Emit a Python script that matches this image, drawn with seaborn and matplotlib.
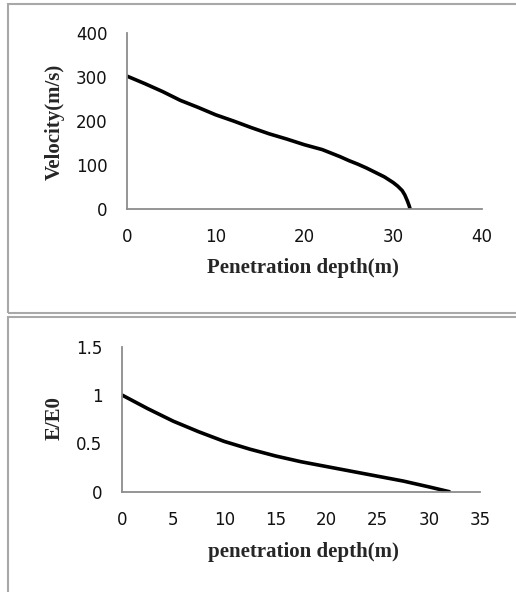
import matplotlib
matplotlib.use("Agg")
import matplotlib.pyplot as plt
from matplotlib.patches import Rectangle
import seaborn as sns
import pandas as pd

# Velocity vs penetration depth (top panel)
depth_v = [0, 2, 4, 6, 8, 10, 12, 14, 16, 18, 20, 22, 24, 25, 26, 27, 28, 29, 30, 30.5, 31, 31.3, 31.6, 31.8, 31.9]
velocity = [302, 285, 267, 247, 231, 214, 200, 185, 171, 159, 146, 135, 119, 110, 102, 93, 83, 73, 60, 52, 42, 32, 18, 7, 0]

# Energy ratio vs penetration depth (bottom panel)
depth_e = [0, 2.5, 5, 7.5, 10, 12.5, 15, 17.5, 20, 22.5, 25, 27.5, 30, 32]
energy = [1.0, 0.86, 0.73, 0.62, 0.52, 0.44, 0.37, 0.31, 0.26, 0.21, 0.16, 0.11, 0.05, 0.0]

sns.set_style("white")

W, H = 516, 592
fig = plt.figure(figsize=(W / 100, H / 100), dpi=100)

axis_grey = "#8c8c8c"
label_font = dict(family="Liberation Serif", weight="bold", size=15)


def style_axes(ax):
    for side in ["top", "right"]:
        ax.spines[side].set_visible(False)
    for side in ["left", "bottom"]:
        ax.spines[side].set_color(axis_grey)
        ax.spines[side].set_linewidth(1.3)
    ax.tick_params(length=0, labelsize=12, labelcolor="#111111", pad=14)
    for lab in ax.get_xticklabels() + ax.get_yticklabels():
        lab.set_family("DejaVu Sans")


# borders around the two panels
fig.add_artist(Rectangle((8 / W, 1 - 313 / H), 1.1, 309 / H, transform=fig.transFigure,
                         fill=False, ec="#a8a8a8", lw=1.5))
fig.add_artist(Rectangle((8 / W, -0.05), 1.1, 1 - 317 / H + 0.05, transform=fig.transFigure,
                         fill=False, ec="#a8a8a8", lw=1.5))

# top chart
ax1 = fig.add_axes([127 / W, 1 - 209 / H, 355 / W, 176 / H])
df1 = pd.DataFrame({"depth": depth_v, "velocity": velocity})
sns.lineplot(data=df1, x="depth", y="velocity", ax=ax1, color="black", lw=2.6)
ax1.set_xlim(0, 40)
ax1.set_ylim(0, 400)
ax1.set_xticks([0, 10, 20, 30, 40])
ax1.set_yticks([0, 100, 200, 300, 400])
ax1.set_xlabel("Penetration depth(m)", **label_font)
ax1.set_ylabel("Velocity(m/s)", **label_font)
ax1.xaxis.set_label_coords((303 - 127) / 355, (209 - 268) / 176)
ax1.yaxis.set_label_coords((55 - 127) / 355, (209 - 122) / 176)
ax1.xaxis.label.set_va("center")
ax1.yaxis.label.set_va("center")
style_axes(ax1)

# bottom chart
ax2 = fig.add_axes([122 / W, 1 - 491.7 / H, 358 / W, 145 / H])
df2 = pd.DataFrame({"depth": depth_e, "energy": energy})
sns.lineplot(data=df2, x="depth", y="energy", ax=ax2, color="black", lw=2.6)
ax2.set_xlim(0, 35)
ax2.set_ylim(0, 1.5)
ax2.set_xticks([0, 5, 10, 15, 20, 25, 30, 35])
ax2.set_yticks([0, 0.5, 1, 1.5])
ax2.set_yticklabels(["0", "0.5", "1", "1.5"])
ax2.set_xlabel("penetration depth(m)", **label_font)
ax2.set_ylabel("E/E0", **label_font)
ax2.xaxis.set_label_coords((303 - 122) / 358, (491.7 - 552) / 145)
ax2.yaxis.set_label_coords((55 - 122) / 358, (491.7 - 418) / 145)
ax2.xaxis.label.set_va("center")
ax2.yaxis.label.set_va("center")
style_axes(ax2)

fig.savefig("out.png", dpi=100)
